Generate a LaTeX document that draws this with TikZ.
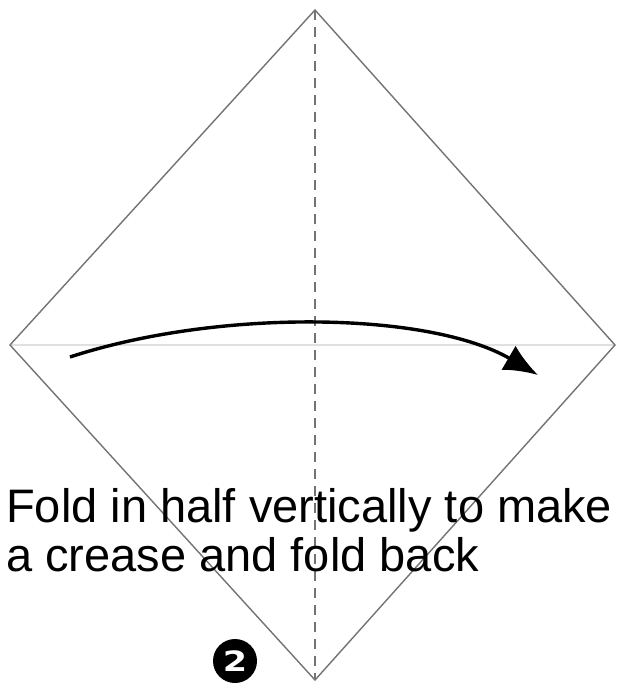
\documentclass[tikz,border=0pt]{standalone}
\usepackage{fontspec}
\setmainfont{Liberation Sans}
\newfontfamily\numfont{DejaVu Sans}
\usetikzlibrary{arrows.meta,positioning}

\begin{document}
\begin{tikzpicture}[
  x=1pt, y=-1pt,
  edge/.style={draw=black!55, line width=1.4pt},
  crease/.style={draw=black!55, line width=1.4pt, dash pattern=on 10pt off 7pt},
  midline/.style={draw=black!12, line width=1.3pt},
  foldarrow/.style={-{Latex[length=34pt, width=28pt]}, line width=3.4pt},
  caption/.style={align=left, font=\fontsize{47}{49}\selectfont, inner sep=0pt, anchor=base west},
  stepno/.style={circle, fill=black, text=white, inner sep=0pt, minimum size=44pt, font=\numfont\bfseries\fontsize{28}{28}\selectfont}
]
  \useasboundingbox (0,0) rectangle (627,688);
  \coordinate (top) at (315,10);
  \coordinate (left) at (10,345);
  \coordinate (right) at (615,345);
  \coordinate (bottom) at (315,680);
  \coordinate (start) at (70,357);
  \coordinate (tip) at (538,375);

  \draw[midline] (left) -- (right);
  \draw[edge] (top) -- (right) -- (bottom) -- (left) -- cycle;
  \draw[crease] (top) -- (bottom);
  \draw[foldarrow] (start) .. controls (220,308) and (430,312) .. (tip);

  \node[caption] (text) at (6,571) {Fold in half vertically to make\\a crease and fold back};
  \node[stepno] (num) at (235,661) {\scalebox{1.25}[1]{2}};
\end{tikzpicture}
\end{document}
